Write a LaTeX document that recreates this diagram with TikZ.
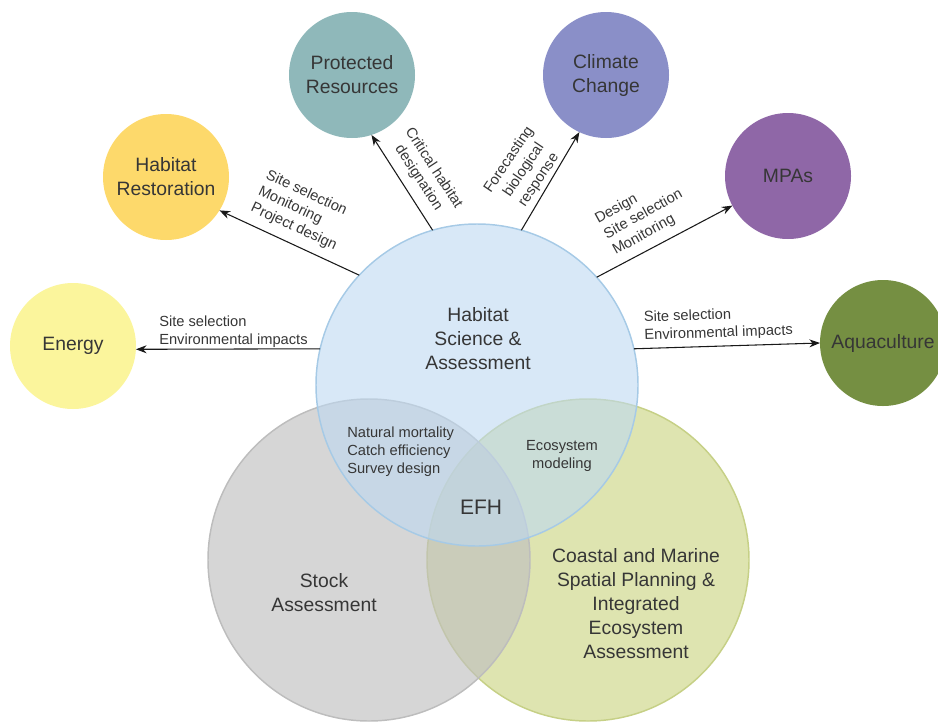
\documentclass[tikz,border=0pt]{standalone}
\usepackage{fontspec}
\setmainfont{Liberation Sans}
\usetikzlibrary{arrows.meta}
\definecolor{txt}{HTML}{363636}
\definecolor{habfill}{HTML}{BED9F2}
\definecolor{habline}{HTML}{A6CAE6}
\definecolor{stockfill}{HTML}{C0C0C0}
\definecolor{stockline}{HTML}{BDBDBD}
\definecolor{coastfill}{HTML}{DEE4B0}
\definecolor{coastline}{HTML}{C6D086}
\definecolor{energyc}{HTML}{FBF59C}
\definecolor{restc}{HTML}{FDD96B}
\definecolor{protc}{HTML}{8FB8BA}
\definecolor{climc}{HTML}{8A8FC8}
\definecolor{mpac}{HTML}{8F67A7}
\definecolor{aquac}{HTML}{758F42}
\begin{document}
\begin{tikzpicture}[x=0.75pt,y=-0.75pt,
  bigc/.style={circle, inner sep=0pt, outer sep=0pt, minimum size=241.5pt, line width=1.1pt},
  smallc/.style={circle, inner sep=0pt, outer sep=0pt, minimum size=94.5pt, text=txt, align=center,
     font=\fontsize{14.5}{18}\selectfont},
  bigtext/.style={text=txt, align=center, font=\fontsize{14.5}{18}\selectfont, inner sep=0pt},
  smalltext/.style={text=txt, font=\fontsize{11}{13.5}\selectfont, inner sep=0pt},
  arr/.style={-{Stealth[length=8pt,width=6pt]}, line width=0.8pt, draw=black!90}
]
\useasboundingbox (0,0) rectangle (938,725);
% big circles
\node[bigc, fill=coastfill, draw=coastline] (coast) at (588,560) {};
\node[bigc, fill=stockfill, draw=stockline, fill opacity=0.65] (stock) at (369,560) {};
\node[bigc, fill=habfill, draw=habline, fill opacity=0.6] (hab) at (477,385) {};
% small circles
\node[smallc, fill=energyc] (energy) at (73,346) {Energy};
\node[smallc, fill=restc] (rest) at (166,177) {Habitat\\Restoration};
\node[smallc, fill=protc] (prot) at (352,75) {Protected\\Resources};
\node[smallc, fill=climc] (clim) at (606,75) {Climate\\Change};
\node[smallc, fill=mpac] (mpa) at (788,176) {MPAs};
\node[smallc, fill=aquac] (aqua) at (883,343) {Aquaculture};
% texts in big circles
\node[bigtext] (habt) at (478,339) {Habitat\\Science \&\\Assessment};
\node[bigtext] (stockt) at (324,593) {Stock\\Assessment};
\node[bigtext] (coastt) at (636,604) {Coastal and Marine\\Spatial Planning \&\\Integrated\\Ecosystem\\Assessment};
\node[text=txt, font=\fontsize{15.75}{18}\selectfont, inner sep=0pt] (efh) at (481,507) {EFH};
\node[smalltext, align=left, anchor=west] (nat) at (347,452) {Natural mortality\\Catch efficiency\\Survey design};
\node[smalltext, align=center] (eco) at (562,456) {Ecosystem\\modeling};
% arrows
\draw[arr] (hab.167) -- (energy.-3);
\draw[arr] (hab.137) -- (rest.-32);
\draw[arr] (hab.106) -- (prot.-72);
\draw[arr] (hab.74) -- (clim.-115);
\draw[arr] (hab.42) -- (mpa.-152);
\draw[arr] (hab.13) -- (aqua.180);
% arrow labels
\node[smalltext, align=left, anchor=west] (energyl) at (159,332) {Site selection\\Environmental impacts};
\node[smalltext, align=left, anchor=west, rotate=-25] (restl) at (259,191) {Site selection\\Monitoring\\Project design};
\node[smalltext, align=center, rotate=-57] (protl) at (426,173) {Critical habitat\\designation};
\node[smalltext, align=center, rotate=56] (climl) at (524,170) {Forecasting\\biological\\response};
\node[smalltext, align=left, anchor=west, rotate=29] (mpal) at (605,236) {Design\\Site selection\\Monitoring};
\node[smalltext, align=left, anchor=west, rotate=2] (aqual) at (644,327) {Site selection\\Environmental impacts};
\end{tikzpicture}
\end{document}
